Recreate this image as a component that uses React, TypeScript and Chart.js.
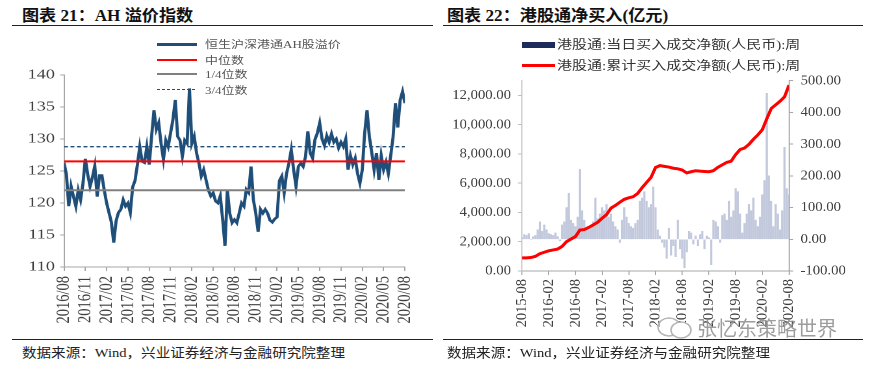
import React, { useEffect, useRef } from "react";
import { Chart, registerables } from "chart.js";

Chart.register(...registerables);

// ---------- Chart 21: AH premium index ----------
const ahTickLabels = [
  "2016/08", "2016/11", "2017/02", "2017/05", "2017/08", "2017/11", "2018/02", "2018/05", "2018/08",
  "2018/11", "2019/02", "2019/05", "2019/08", "2019/11", "2020/02", "2020/05", "2020/08",
];
const ahSpanMonths = 48;
const ahTickStepMonths = 3;
// evenly spaced readings (every ~1/3 month) from 2016/08 to 2020/08
const ahValues = [
  126.3, 124.5, 119.5, 122.6, 121.0, 119.5, 122.0, 120.5, 123.0, 126.9,
  124.5, 122.6, 124.0, 125.8, 121.0, 124.3, 124.3, 122.0, 120.0, 118.5,
  117.0, 113.8, 117.2, 118.5, 119.0, 120.5, 119.5, 120.0, 118.5, 122.5,
  123.5, 126.0, 128.8, 126.5, 126.3, 128.8, 126.0, 130.4, 134.5, 131.5,
  132.5, 129.3, 126.8, 129.8, 128.8, 130.9, 133.0, 136.1, 130.4, 129.8,
  127.3, 129.8, 129.3, 137.9, 129.3, 130.4, 127.8, 126.2, 124.2, 125.2,
  123.6, 122.0, 121.1, 121.6, 120.3, 120.0, 121.1, 117.5, 113.3, 122.0,
  118.4, 116.9, 117.4, 116.9, 118.4, 120.0, 119.5, 122.1, 121.6, 125.7,
  120.5, 118.4, 115.5, 119.0, 118.4, 119.0, 118.4, 117.3, 117.0, 117.5,
  117.8, 123.5, 124.2, 121.6, 124.6, 126.2, 128.3, 125.2, 122.6, 125.7,
  126.2, 125.7, 127.2, 131.2, 127.8, 127.0, 129.9, 130.9, 132.5, 130.0,
  129.0, 130.5, 129.5, 130.8, 129.5, 130.0, 128.6, 129.5, 128.8, 130.0,
  125.2, 127.4, 126.0, 127.0, 124.6, 123.1, 125.2, 130.9, 134.5, 130.3,
  127.9, 125.2, 127.8, 123.6, 127.4, 125.2, 126.4, 124.6, 127.4, 130.3,
  135.6, 131.8, 136.1, 137.4, 135.6,
];
const ahMedian = 126.5;
const ahLowerQuartile = 122.0;
const ahUpperQuartile = 128.8;
const ahSeriesNames = ["恒生沪深港通AH股溢价", "中位数", "1/4位数", "3/4位数"];

// ---------- Chart 22: Southbound net buying ----------
const flowTickLabels = [
  "2015-08", "2016-02", "2016-08", "2017-02", "2017-08", "2018-02",
  "2018-08", "2019-02", "2019-08", "2020-02", "2020-08",
];
const flowSpanMonths = 60;
const flowTickStepMonths = 6;
const cumulativeAxisTicks = [0, 2000, 4000, 6000, 8000, 10000, 12000];
// net buy per period (亿元), every half month from 2015-08
const periodNetBuy = [
  5, 15, 12, 18, 0, 8, 12, 30, 55, 25,
  45, 30, 18, 15, 12, 20, 8, -5, 45, 55,
  100, 145, 60, 50, 40, 70, 220, 90, 60, 35,
  30, 40, 55, 130, 65, 80, 100, 90, 110, 70,
  80, 55, 40, 30, -10, 60, 100, 70, 50, 40,
  35, 50, 60, 120, 130, 150, 120, 100, 110, 165,
  100, 30, 10, -10, -25, -60, 35, -50, -20, -55,
  60, -30, -60, -90, -40, 25, 20, -15, 10, -20,
  15, 25, -30, 10, 5, -80, 60, 55, 40, -10,
  75, 80, 60, 120, 70, 90, 160, 150, 80, 20,
  50, 80, 110, 90, 130, 60, 40, 70, 140, 185,
  460, 200, 120, 40, 110, 80, 30, 90, 290, 160,
  140,
];
// cumulative net buy (亿元), monthly from 2015-08
const cumulativeNetBuy = [
  900, 900, 920, 1000, 1180, 1280, 1380, 1440, 1500, 1680,
  2000, 2180, 2350, 2800, 2830, 2980, 3150, 3330, 3600, 3850,
  4300, 4480, 4700, 4900, 5000, 5080, 5300, 5700, 6050, 6400,
  7070, 7200, 7150, 7100, 7020, 6980, 6900, 6700, 6780, 6850,
  6820, 6800, 6780, 6850, 7080, 7250, 7420, 7500, 7950, 8300,
  8400, 8650, 9000, 9300, 9650, 10400, 11100, 11350, 11600, 11900,
  12700,
];
const flowSeriesNames = ["港股通:当日买入成交净额(人民币):周", "港股通:累计买入成交净额(人民币):周"];

const SERIF = "'Liberation Serif', 'Times New Roman', serif";
const TEXT_FONT = "'Liberation Serif', 'Noto Sans CJK SC', serif";
const TICK_COLOR = "#404040";
const AXIS_COLOR = "#a6a6a6";

const LEFT_SCALE = 434 / 334;
const RIGHT_SCALE = 1.05;

function AhChart() {
  const ref = useRef<HTMLCanvasElement | null>(null);
  useEffect(() => {
    if (!ref.current) return;
    const step = ahSpanMonths / (ahValues.length - 1);
    const flat = (v: number) => [{ x: 0, y: v }, { x: ahSpanMonths, y: v }];
    const chart = new Chart(ref.current, {
      type: "line",
      data: {
        datasets: [
          { label: ahSeriesNames[1], data: flat(ahMedian), borderColor: "#ff0000", borderWidth: 2, pointRadius: 0, order: 0 },
          { label: ahSeriesNames[2], data: flat(ahLowerQuartile), borderColor: "#808080", borderWidth: 2, pointRadius: 0, order: 1 },
          { label: ahSeriesNames[3], data: flat(ahUpperQuartile), borderColor: "#1f4e79", borderWidth: 1.3, borderDash: [3, 2], pointRadius: 0, order: 2 },
          {
            label: ahSeriesNames[0],
            data: ahValues.map((v, i) => ({ x: i * step, y: v })),
            borderColor: "#1f4e79",
            borderWidth: 2.4,
            pointRadius: 0,
            tension: 0,
            order: 5,
          },
        ],
      },
      options: {
        animation: false,
        responsive: false,
        devicePixelRatio: 2,
        layout: { padding: { top: 45, right: 7.7, left: 0, bottom: 0 } },
        plugins: { legend: { display: false }, tooltip: { enabled: false }, title: { display: false } },
        scales: {
          x: {
            type: "linear",
            min: 0,
            max: ahSpanMonths,
            ticks: {
              stepSize: ahTickStepMonths,
              autoSkip: false,
              minRotation: 90,
              maxRotation: 90,
              padding: 5,
              color: TICK_COLOR,
              font: { family: SERIF, size: 14.5 },
              callback: (_v: any, i: number) => ahTickLabels[i] ?? "",
            },
            grid: { drawOnChartArea: false, drawTicks: true, tickLength: 4, color: AXIS_COLOR },
            border: { color: AXIS_COLOR, width: 1 },
            afterFit: (s: any) => { s.height = 73; },
          },
          y: {
            min: 110,
            max: 140,
            ticks: { stepSize: 5, padding: 4, color: TICK_COLOR, font: { family: SERIF, size: 14 } },
            grid: { drawOnChartArea: false, drawTicks: true, tickLength: 3, color: AXIS_COLOR },
            border: { color: AXIS_COLOR, width: 1 },
            afterFit: (s: any) => { s.width = 64 / LEFT_SCALE; },
          },
        },
      },
    } as any);
    return () => chart.destroy();
  }, []);
  return <canvas ref={ref} width={334} height={310} />;
}

function FlowChart() {
  const ref = useRef<HTMLCanvasElement | null>(null);
  useEffect(() => {
    if (!ref.current) return;
    const chart = new Chart(ref.current, {
      type: "bar",
      data: {
        datasets: [
          {
            type: "line",
            label: flowSeriesNames[1],
            data: cumulativeNetBuy.map((v, i) => ({ x: i, y: v })),
            yAxisID: "yL",
            borderColor: "#ff0000",
            borderWidth: 3,
            pointRadius: 0,
            tension: 0,
            order: 0,
          },
          {
            type: "bar",
            label: flowSeriesNames[0],
            data: periodNetBuy.map((v, i) => ({ x: (i * flowSpanMonths) / (periodNetBuy.length - 1), y: v })),
            yAxisID: "yR",
            backgroundColor: "#c3c9dc",
            barThickness: 1.4,
            order: 1,
          },
        ],
      },
      options: {
        animation: false,
        responsive: false,
        devicePixelRatio: 2,
        layout: { padding: { top: 50.7, right: 0, left: 0, bottom: 0 } },
        plugins: { legend: { display: false }, tooltip: { enabled: false }, title: { display: false } },
        scales: {
          x: {
            type: "linear",
            min: 0,
            max: flowSpanMonths,
            offset: false,
            ticks: {
              stepSize: flowTickStepMonths,
              autoSkip: false,
              minRotation: 90,
              maxRotation: 90,
              padding: 4,
              color: TICK_COLOR,
              font: { family: SERIF, size: 14.5 },
              callback: (_v: any, i: number) => flowTickLabels[i] ?? "",
            },
            grid: { offset: false, drawOnChartArea: false, drawTicks: true, tickLength: 4, color: AXIS_COLOR },
            border: { color: AXIS_COLOR, width: 1 },
            afterFit: (s: any) => { s.height = 69; },
          },
          yL: {
            type: "linear",
            position: "left",
            min: 0,
            max: 13000,
            afterBuildTicks: (s: any) => { s.ticks = cumulativeAxisTicks.map((v) => ({ value: v })); },
            ticks: {
              padding: 6.5,
              color: TICK_COLOR,
              font: { family: SERIF, size: 14 },
              callback: (v: any) => Number(v).toLocaleString("en-US", { minimumFractionDigits: 2, maximumFractionDigits: 2 }),
            },
            grid: { drawOnChartArea: false, drawTicks: true, tickLength: 4, color: "#bfbfbf" },
            border: { color: "#bfbfbf", width: 1 },
            afterFit: (s: any) => { s.width = (522 - 440) / RIGHT_SCALE; },
          },
          yR: {
            type: "linear",
            position: "right",
            min: -100,
            max: 500,
            ticks: {
              stepSize: 100,
              padding: 7,
              color: TICK_COLOR,
              font: { family: SERIF, size: 14 },
              callback: (v: any) => Number(v).toFixed(2),
            },
            grid: { drawOnChartArea: false, drawTicks: true, tickLength: 4, color: AXIS_COLOR },
            border: { color: AXIS_COLOR, width: 1 },
            afterFit: (s: any) => { s.width = 411 - (789 - 440) / RIGHT_SCALE; },
          },
        },
      },
    } as any);
    return () => chart.destroy();
  }, []);
  return <canvas ref={ref} width={411} height={310} />;
}

const abs = (s: React.CSSProperties): React.CSSProperties => ({ position: "absolute", ...s });

function StretchText(props: { x: number; cy: number; size: number; sx: number; color: string; bold?: boolean; text: string; family?: string }) {
  const lh = Math.round(props.size * 1.3);
  return (
    <div
      style={abs({
        left: props.x,
        top: props.cy - lh / 2,
        height: lh,
        lineHeight: lh + "px",
        fontSize: props.size,
        fontFamily: props.family ?? TEXT_FONT,
        fontWeight: props.bold ? 700 : 400,
        color: props.color,
        whiteSpace: "nowrap",
        transform: `scaleX(${props.sx})`,
        transformOrigin: "0 50%",
      })}
    >
      {props.text}
    </div>
  );
}

export default function App() {
  return (
    <div style={abs({ left: 0, top: 0, width: 871, height: 369, background: "#ffffff", overflow: "hidden" })}>
      {/* titles */}
      <StretchText x={22} cy={15} size={16} sx={1.07} color="#111" bold text="图表 21：AH 溢价指数" />
      <StretchText x={447} cy={15} size={16} sx={1.07} color="#111" bold text="图表 22：港股通净买入(亿元)" />
      <div style={abs({ left: 12, top: 24.5, width: 421, height: 1.5, background: "#222" })} />
      <div style={abs({ left: 443, top: 24.5, width: 420, height: 1.5, background: "#222" })} />

      {/* charts */}
      <div style={abs({ left: 0, top: 30, transform: `scaleX(${LEFT_SCALE})`, transformOrigin: "0 0" })}>
        <AhChart />
      </div>
      <div style={abs({ left: 440, top: 30, transform: `scaleX(${RIGHT_SCALE})`, transformOrigin: "0 0" })}>
        <FlowChart />
      </div>

      {/* left legend */}
      <div style={abs({ left: 157, top: 43.2, width: 40, height: 3, background: "#1f4e79" })} />
      <div style={abs({ left: 157, top: 58.7, width: 40, height: 2, background: "#ff0000" })} />
      <div style={abs({ left: 157, top: 73, width: 40, height: 2, background: "#808080" })} />
      <div
        style={abs({
          left: 157,
          top: 88.5,
          width: 40,
          height: 1.5,
          background: "repeating-linear-gradient(90deg, #1f4e79 0 3px, transparent 3px 5px)",
        })}
      />
      <StretchText x={205} cy={44.7} size={10} sx={1.3} color="#555" text={ahSeriesNames[0]} />
      <StretchText x={205} cy={60} size={10} sx={1.3} color="#555" text={ahSeriesNames[1]} />
      <StretchText x={205} cy={74.3} size={10} sx={1.3} color="#555" text={ahSeriesNames[2]} />
      <StretchText x={205} cy={90} size={10} sx={1.3} color="#555" text={ahSeriesNames[3]} />

      {/* right legend */}
      <div style={abs({ left: 522, top: 41.7, width: 33, height: 6.6, background: "#1c2b5a" })} />
      <div style={abs({ left: 522, top: 63.5, width: 33, height: 3, background: "#ff0000" })} />
      <StretchText x={557} cy={45} size={12} sx={1.25} color="#333" text={flowSeriesNames[0]} />
      <StretchText x={557} cy={66} size={12} sx={1.25} color="#333" text={flowSeriesNames[1]} />

      {/* watermark */}
      <svg style={abs({ left: 655, top: 316, width: 40, height: 24 })} viewBox="0 0 40 24">
        <ellipse cx="14" cy="11" rx="11" ry="9" fill="none" stroke="#b5b5b5" strokeWidth="1.5" />
        <ellipse cx="26" cy="14" rx="10" ry="8" fill="#fff" stroke="#b5b5b5" strokeWidth="1.5" />
      </svg>
      <StretchText x={697} cy={328} size={20} sx={1.0} color="rgba(140,140,140,0.85)" family="'Noto Sans CJK SC', sans-serif" text="张忆东策略世界" />

      {/* bottom rules and sources */}
      <div style={abs({ left: 12, top: 338.5, width: 421, height: 1.5, background: "#222" })} />
      <div style={abs({ left: 443, top: 338.5, width: 420, height: 1.5, background: "#222" })} />
      <StretchText x={22} cy={352} size={13} sx={1.12} color="#222" text="数据来源：Wind，兴业证券经济与金融研究院整理" />
      <StretchText x={447} cy={352} size={13} sx={1.12} color="#222" text="数据来源：Wind，兴业证券经济与金融研究院整理" />
    </div>
  );
}
